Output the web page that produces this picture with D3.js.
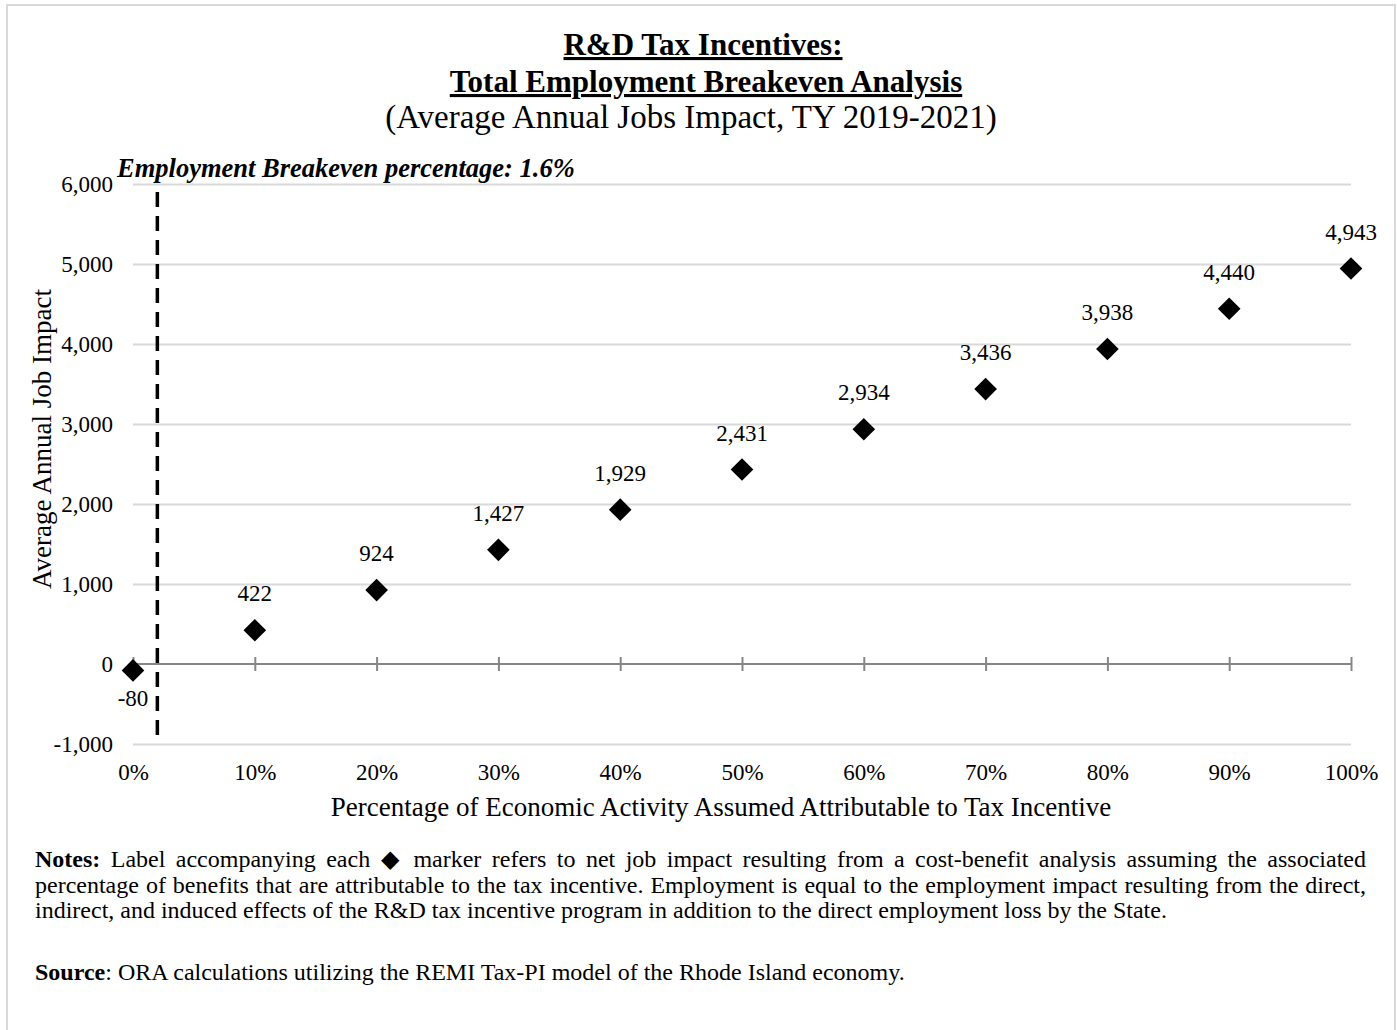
<!DOCTYPE html>
<html>
<head>
<meta charset="utf-8">
<script src="https://cdn.jsdelivr.net/npm/d3@7"></script>
<style>
  body { margin: 0; background: #fff; }
  #wrap { position: relative; width: 1397px; height: 1030px; }
  .note {
    position: absolute; left: 35px; width: 1331px;
    font-family: "Liberation Serif", "Times New Roman", serif;
    font-size: 24px; line-height: 25.5px; color: #000;
    text-align: justify;
  }
</style>
</head>
<body>
<div id="wrap"></div>
<script>
// chart data
const shares = [0, 0.1, 0.2, 0.3, 0.4, 0.5, 0.6, 0.7, 0.8, 0.9, 1.0];
const jobs = [-80, 422, 924, 1427, 1929, 2431, 2934, 3436, 3938, 4440, 4943];
const yTicks = [-1000, 0, 1000, 2000, 3000, 4000, 5000, 6000];
const xTicks = [0, 0.1, 0.2, 0.3, 0.4, 0.5, 0.6, 0.7, 0.8, 0.9, 1.0];
const breakevenShare = 0.02;   // where the dashed line sits in the picture
const breakevenLabel = "Employment Breakeven percentage: 1.6%";

const W = 1397, H = 1030;
const serif = '"Liberation Serif", "Times New Roman", serif';
const num = d => d3.format(",")(d).replace("\u2212", "-");

const wrap = d3.select("#wrap");
const svg = wrap.append("svg").attr("width", W).attr("height", H)
  .style("position", "absolute").style("left", 0).style("top", 0);

// outer frame
svg.append("rect")
  .attr("x", 7).attr("y", 5).attr("width", 1388).attr("height", 1040)
  .attr("fill", "none").attr("stroke", "#d9d9d9").attr("stroke-width", 2);

const x = d3.scaleLinear().domain([0, 1]).range([133, 1351]);
const y = d3.scaleLinear().domain([-1000, 6000]).range([744, 184]);

// titles
const title = svg.append("g").attr("font-family", serif).attr("text-anchor", "middle");
title.append("text").attr("x", 703).attr("y", 55)
  .attr("font-size", 31).attr("font-weight", "bold").attr("text-decoration", "underline")
  .text("R&D Tax Incentives:");
title.append("text").attr("x", 706).attr("y", 92)
  .attr("font-size", 31).attr("font-weight", "bold").attr("text-decoration", "underline")
  .text("Total Employment Breakeven Analysis");
title.append("text").attr("x", 691).attr("y", 128)
  .attr("font-size", 33)
  .text("(Average Annual Jobs Impact, TY 2019-2021)");

// gridlines
svg.append("g")
  .attr("transform", "translate(133,0)")
  .call(d3.axisLeft(y).tickValues(yTicks.filter(d => d !== 0)).tickSize(-(1351 - 133)).tickFormat(""))
  .call(g => g.select(".domain").remove())
  .call(g => g.selectAll("line").attr("stroke", "#d9d9d9").attr("stroke-width", 2));

// y tick labels
svg.append("g")
  .attr("transform", "translate(133,0)")
  .call(d3.axisLeft(y).tickValues(yTicks).tickSize(0).tickPadding(20).tickFormat(num))
  .call(g => g.select(".domain").remove())
  .call(g => g.selectAll("text").attr("font-family", serif).attr("font-size", 23).attr("fill", "#000"));

// zero axis with crossing ticks
svg.append("line")
  .attr("x1", x(0)).attr("x2", x(1)).attr("y1", y(0)).attr("y2", y(0))
  .attr("stroke", "#868686").attr("stroke-width", 2);
svg.append("g")
  .attr("transform", `translate(0,${y(0) - 7})`)
  .call(d3.axisBottom(x).tickValues(xTicks).tickSize(14).tickFormat(""))
  .call(g => g.select(".domain").remove())
  .call(g => g.selectAll("line").attr("stroke", "#868686").attr("stroke-width", 2));

// x tick labels at the bottom
svg.append("g")
  .attr("transform", "translate(0,744)")
  .call(d3.axisBottom(x).tickValues(xTicks).tickSize(0).tickPadding(20).tickFormat(d3.format(".0%")))
  .call(g => g.select(".domain").remove())
  .call(g => g.selectAll("text").attr("font-family", serif).attr("font-size", 23).attr("fill", "#000"));

// axis titles
svg.append("text")
  .attr("x", 721).attr("y", 816).attr("text-anchor", "middle")
  .attr("font-family", serif).attr("font-size", 27)
  .text("Percentage of Economic Activity Assumed Attributable to Tax Incentive");
svg.append("text")
  .attr("transform", "translate(51,439) rotate(-90)").attr("text-anchor", "middle")
  .attr("font-family", serif).attr("font-size", 27)
  .text("Average Annual Job Impact");

// breakeven line + label
svg.append("line")
  .attr("x1", x(breakevenShare)).attr("x2", x(breakevenShare))
  .attr("y1", y(6000) + 8).attr("y2", y(-1000))
  .attr("stroke", "#000").attr("stroke-width", 3.5).attr("stroke-dasharray", "15,9");
svg.append("text")
  .attr("x", 117).attr("y", 177)
  .attr("font-family", serif).attr("font-size", 26.5)
  .attr("font-weight", "bold").attr("font-style", "italic")
  .text(breakevenLabel);

// markers
const pts = shares.map((s, i) => ({ s, v: jobs[i] }));
const diamond = d3.symbol().type(d3.symbolSquare).size(16 * 16);
svg.append("g").selectAll("path").data(pts).join("path")
  .attr("d", diamond)
  .attr("transform", d => `translate(${x(d.s)},${y(d.v)}) rotate(45)`)
  .attr("fill", "#000");

// value labels
svg.append("g").selectAll("text").data(pts).join("text")
  .attr("x", d => x(d.s))
  .attr("y", d => d.v < 0 ? y(d.v) + 36 : y(d.v) - 29)
  .attr("text-anchor", "middle")
  .attr("font-family", serif).attr("font-size", 23)
  .text(d => num(d.v));

// notes
wrap.append("div").attr("class", "note").style("top", "847px")
  .html('<b>Notes:</b> Label accompanying each &#9670; marker refers to net job impact resulting from a cost-benefit analysis assuming the associated percentage of benefits that are attributable to the tax incentive. Employment is equal to the employment impact resulting from the direct, indirect, and induced effects of the R&amp;D tax incentive program in addition to the direct employment loss by the State.');
wrap.append("div").attr("class", "note").style("top", "960px")
  .html('<b>Source</b>: ORA calculations utilizing the REMI Tax-PI model of the Rhode Island economy.');
</script>
</body>
</html>
